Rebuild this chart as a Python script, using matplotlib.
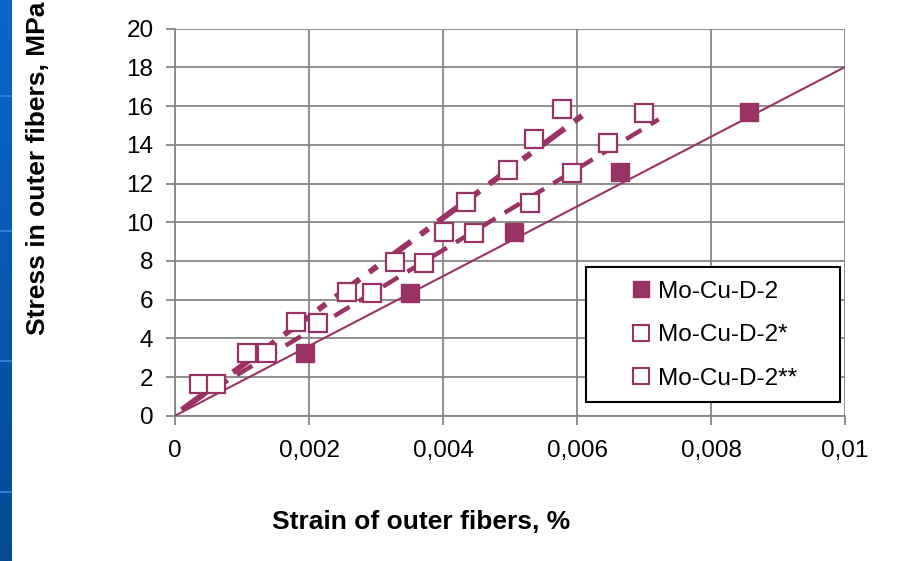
import numpy as np
import matplotlib
matplotlib.use("Agg")
import matplotlib.pyplot as plt
from matplotlib.lines import Line2D
from matplotlib.patches import Rectangle
from matplotlib.colors import LinearSegmentedColormap

plt.rcParams["font.family"] = ["Liberation Sans", "DejaVu Sans"]

# Mo-Cu-D-2 (filled squares)
strain_d2 = [0.00194, 0.00351, 0.00506, 0.00664, 0.00857]
stress_d2 = [3.22, 6.33, 9.51, 12.61, 15.71]

# Mo-Cu-D-2* (open squares)
strain_d2s = [0.00036, 0.00108, 0.00181, 0.00256, 0.00328, 0.00402, 0.00434, 0.00497, 0.00536, 0.00577]
stress_d2s = [1.64, 3.24, 4.86, 6.41, 7.96, 9.51, 11.06, 12.70, 14.28, 15.83]

# Mo-Cu-D-2** (open squares)
strain_d2ss = [0.00061, 0.00137, 0.00213, 0.00294, 0.00372, 0.00447, 0.00530, 0.00592, 0.00646, 0.00700]
stress_d2ss = [1.64, 3.24, 4.78, 6.33, 7.88, 9.43, 10.98, 12.53, 14.08, 15.63]

# trend lines: (x start, x end, slope, intercept)
trend_d2 = (0.0, 0.01, 1802.0, 0.0)
trend_d2s = (0.0001, 0.0061, 2545.0, 0.04)
trend_d2ss = (0.0002, 0.00722, 2099.0, 0.16)

x_ticks = [0, 0.002, 0.004, 0.006, 0.008, 0.01]
x_tick_labels = ["0", "0,002", "0,004", "0,006", "0,008", "0,01"]
y_ticks = list(range(0, 21, 2))

color = "#993366"
grid_col = "#868686"

fig = plt.figure(figsize=(9.16, 5.61), dpi=100)
ax = fig.add_axes([175 / 916, 1 - 415.7 / 561, 670 / 916, 387 / 561])

# blue slide stripe on the left
stripe = fig.add_axes([0, 0, 12 / 916, 1])
cmap = LinearSegmentedColormap.from_list("stripe", ["#0a66cc", "#054a92"])
stripe.imshow(np.linspace(0, 1, 256).reshape(-1, 1), aspect="auto", cmap=cmap,
              extent=[0, 1, 561, 0])
for yy in [96, 231, 361, 492]:
    stripe.axhline(yy, color="#3b86dc", lw=1.2)
stripe.set_xlim(0, 1)
stripe.set_ylim(561, 0)
stripe.axis("off")


def trend(ax, t, **kw):
    x0, x1, k, b = t
    xs = np.array([x0, x1])
    ax.plot(xs, k * xs + b, color=color, solid_capstyle="butt", dash_capstyle="butt", **kw)


trend(ax, trend_d2, lw=1.5, zorder=3)
trend(ax, trend_d2ss, lw=3.2, dashes=(4.0, 2.4), zorder=3)
trend(ax, trend_d2s, lw=4.2, dashes=(5.2, 2.0, 1.7, 2.0), zorder=3)

ax.plot(strain_d2, stress_d2, ls="none", marker="s", ms=13.5, mfc=color, mec=color, zorder=4)
ax.plot(strain_d2s, stress_d2s, ls="none", marker="s", ms=12.5, mfc="white", mec=color,
        mew=1.6, zorder=4)
ax.plot(strain_d2ss, stress_d2ss, ls="none", marker="s", ms=12.5, mfc="white", mec=color,
        mew=1.6, zorder=4)

ax.set_xlim(0, 0.01)
ax.set_ylim(0, 20)
ax.set_xticks(x_ticks)
ax.set_xticklabels(x_tick_labels)
ax.set_yticks(y_ticks)
ax.grid(True, color=grid_col, lw=1.3)
ax.set_axisbelow(True)
for side in ["top", "right"]:
    ax.spines[side].set_visible(False)
for side in ["left", "bottom"]:
    ax.spines[side].set_color(grid_col)
    ax.spines[side].set_linewidth(1.3)
ax.tick_params(axis="both", colors=grid_col, labelcolor="black", labelsize=17.5,
               length=6.5, width=1.3, direction="out")
ax.tick_params(axis="y", pad=9)
ax.tick_params(axis="x", pad=11)

# legend box
ax.add_patch(Rectangle((0.613, 0.035), 0.3795, 0.349, transform=ax.transAxes,
                       facecolor="white", edgecolor="black", lw=1.5, zorder=5))
handles = [
    Line2D([], [], ls="none", marker="s", ms=11, mfc=color, mec=color),
    Line2D([], [], ls="none", marker="s", ms=11, mfc="white", mec=color, mew=1.5),
    Line2D([], [], ls="none", marker="s", ms=11, mfc="white", mec=color, mew=1.5),
]
leg = ax.legend(handles, ["Mo-Cu-D-2", "Mo-Cu-D-2*", "Mo-Cu-D-2**"], loc="upper left",
                bbox_to_anchor=(0.6776, 0.349), frameon=False, fontsize=17.5,
                borderpad=0, borderaxespad=0, handlelength=1.0, handletextpad=0.2,
                labelspacing=0.89)
leg.set_zorder(6)

fig.text(421 / 916, 1 - 522 / 561, "Strain of outer fibers, %", fontsize=19,
         fontweight="bold", ha="center", va="center")
fig.text(38 / 916, 1 - 168 / 561, "Stress in outer fibers, MPa", fontsize=19,
         fontweight="bold", ha="center", va="center", rotation=90)

fig.savefig("out.png", dpi=100)
